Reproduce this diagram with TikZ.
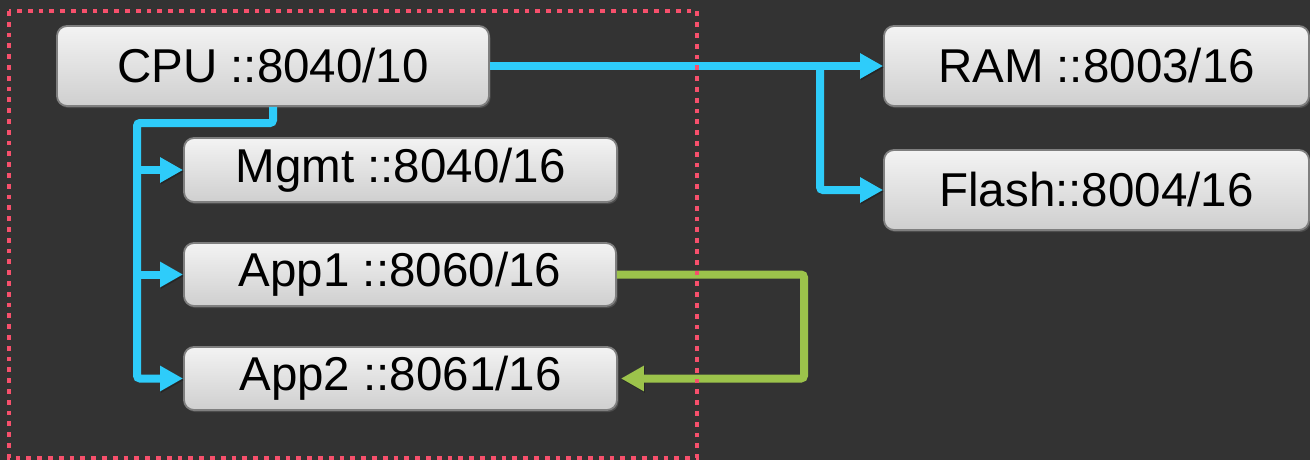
\documentclass[tikz,border=0pt]{standalone}
\usepackage{fontspec}
\setmainfont{Liberation Sans}
\usetikzlibrary{arrows.meta,shadows}

\definecolor{bgdark}{HTML}{333333}
\definecolor{linkblue}{HTML}{2ECCFA}
\definecolor{linkgreen}{HTML}{9CC34B}
\definecolor{zonered}{HTML}{F7506C}
\definecolor{boxtop}{HTML}{F3F3F3}
\definecolor{boxbottom}{HTML}{CFCFCF}
\definecolor{boxedge}{HTML}{7F7F7F}

\tikzset{
  addrbox/.style={rectangle, rounded corners=10pt, draw=boxedge, line width=1.8pt,
    top color=boxtop, bottom color=boxbottom, inner sep=0pt,
    font=\fontsize{47.5}{52}\selectfont, text=black,
    drop shadow={opacity=0.35, shadow xshift=1.5pt, shadow yshift=-2pt}},
  link/.style={line width=8pt, rounded corners=3pt,
    -{Triangle[length=23pt,width=24pt]},
    preaction={draw=black, draw opacity=0.25, transform canvas={xshift=1pt,yshift=-1.5pt}}},
  bluelink/.style={link, draw=linkblue},
  greenlink/.style={link, draw=linkgreen},
  zone/.style={draw=zonered, line width=4.8pt, dash pattern=on 4.8pt off 6pt}
}

\begin{document}
\begin{tikzpicture}[x=1pt, y=-1pt]
  % canvas
  \fill[bgdark] (0,0) rectangle (1310,460);
  \useasboundingbox (0,0) rectangle (1310,460);

  % address blocks
  \node[addrbox, minimum width=432pt, minimum height=80pt] (cpu)   at (273,66)    {CPU ::8040/10};
  \node[addrbox, minimum width=433pt, minimum height=64pt] (mgmt)  at (400.5,170) {Mgmt ::8040/16};
  \node[addrbox, minimum width=432pt, minimum height=63pt] (app1)  at (400,274.5) {App1 ::8060/16};
  \node[addrbox, minimum width=433pt, minimum height=63pt] (app2)  at (400.5,378.5) {App2 ::8061/16};
  \node[addrbox, minimum width=425pt, minimum height=80pt] (ram)   at (1096.5,66) {RAM ::8003/16};
  \node[addrbox, minimum width=425pt, minimum height=80pt] (flash) at (1096.5,190) {Flash::8004/16};

  % routing points
  \coordinate (bustop)   at (137,123);
  \coordinate (ramsplit) at (820,66);
  \coordinate (loopturn) at (804,378.5);

  % CPU to memory blocks
  \draw[bluelink] (cpu.east) -- (ram.west);
  \draw[bluelink] (ramsplit) |- (flash.west);

  % CPU down the local bus
  \draw[bluelink] (cpu.south) |- (bustop) |- (app2.west);
  \draw[bluelink] (bustop |- mgmt.west) -- (mgmt.west);
  \draw[bluelink] (bustop |- app1.west) -- (app1.west);

  % App1 to App2 loop
  \draw[greenlink] (app1.east) -| (loopturn) -- ([xshift=3pt]app2.east);

  % local zone outline
  \draw[zone] (9,11) rectangle (697,458);
\end{tikzpicture}
\end{document}
